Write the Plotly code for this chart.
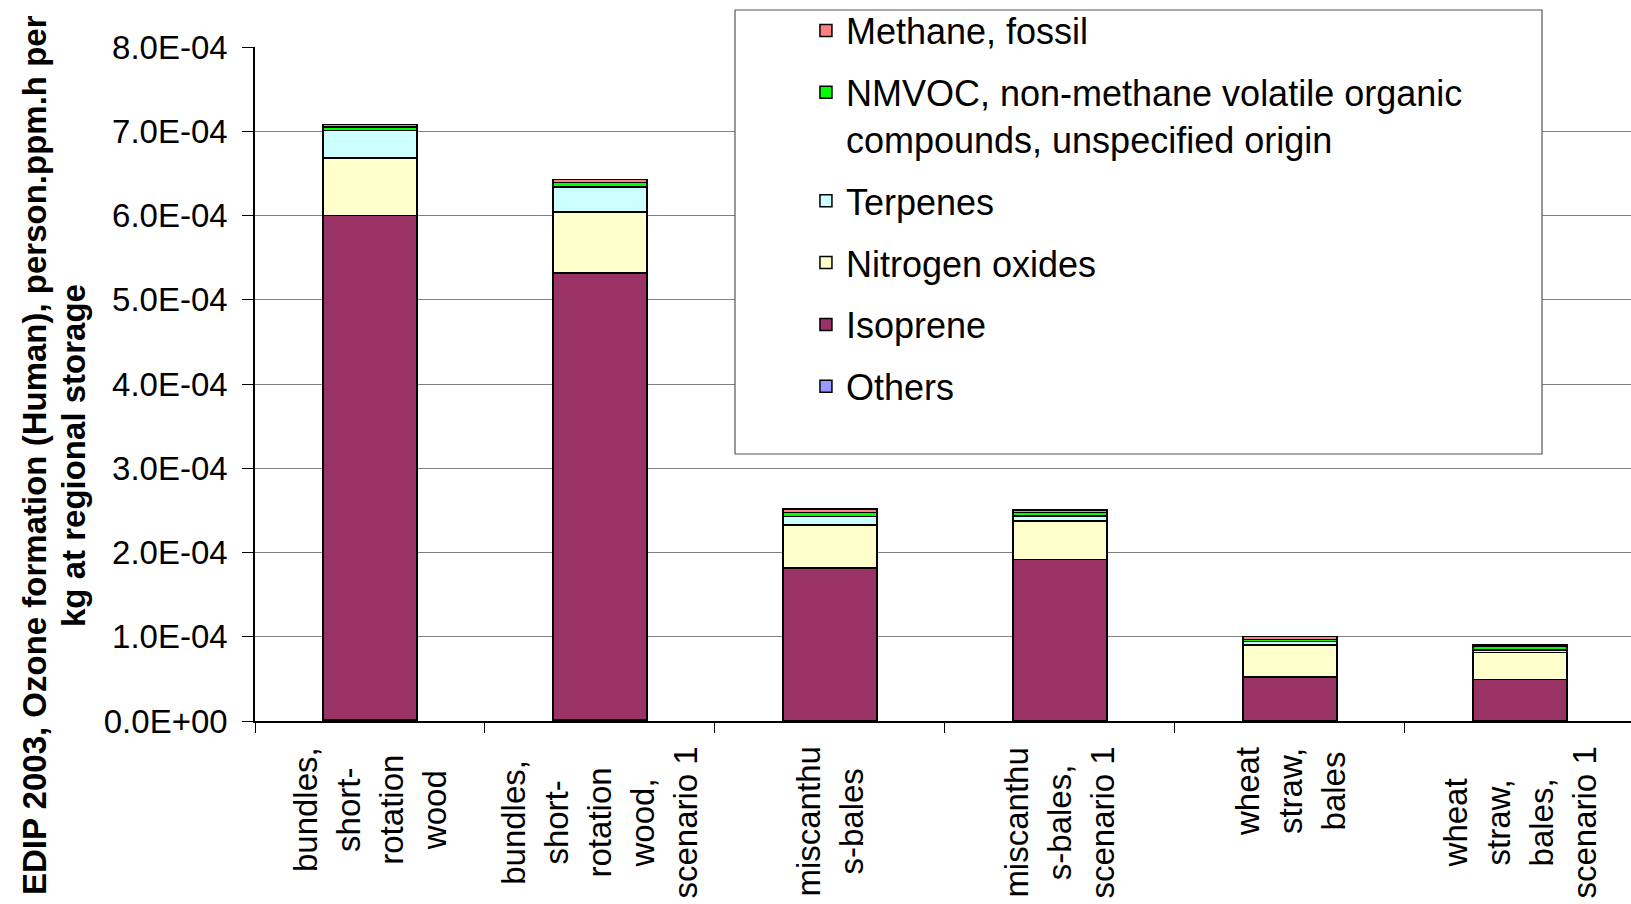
import plotly.graph_objects as go

# ---------------- data ----------------
categories = [
    "bundles, short-rotation wood",
    "bundles, short-rotation wood, scenario 1",
    "miscanthus-bales",
    "miscanthus-bales, scenario 1",
    "wheat straw, bales",
    "wheat straw, bales, scenario 1",
]
category_labels = [
    "bundles,<br>short-<br>rotation<br>wood",
    "bundles,<br>short-<br>rotation<br>wood,<br>scenario 1",
    "miscanthu<br>s-bales",
    "miscanthu<br>s-bales,<br>scenario 1",
    "wheat<br>straw,<br>bales",
    "wheat<br>straw,<br>bales,<br>scenario 1",
]

others = [1.0e-6, 1.0e-6, 0.5e-6, 0.5e-6, 0.3e-6, 0.3e-6]
isoprene = [5.99e-4, 5.31e-4, 1.81e-4, 1.91e-4, 0.52e-4, 0.49e-4]
nitrogen_oxides = [0.68e-4, 0.72e-4, 0.51e-4, 0.46e-4, 0.38e-4, 0.32e-4]
terpenes = [0.33e-4, 0.30e-4, 0.10e-4, 0.06e-4, 0.04e-4, 0.03e-4]
nmvoc = [0.04e-4, 0.05e-4, 0.05e-4, 0.04e-4, 0.025e-4, 0.04e-4]
methane = [0.03e-4, 0.035e-4, 0.04e-4, 0.03e-4, 0.035e-4, 0.02e-4]

y_tick_values = [0, 1e-4, 2e-4, 3e-4, 4e-4, 5e-4, 6e-4, 7e-4, 8e-4]
y_tick_labels = ["0.0E+00", "1.0E-04", "2.0E-04", "3.0E-04", "4.0E-04",
                 "5.0E-04", "6.0E-04", "7.0E-04", "8.0E-04"]

y_title_lines = ["EDIP 2003, Ozone formation (Human), person.ppm.h per",
                 "kg at regional storage"]

# (name, values, colour, legend rank)
series = [
    ("Others", others, "#9999FF", 6),
    ("Isoprene", isoprene, "#993366", 5),
    ("Nitrogen oxides", nitrogen_oxides, "#FFFFCC", 4),
    ("Terpenes", terpenes, "#CCFFFF", 3),
    ("NMVOC, non-methane volatile organic<br>compounds, unspecified origin", nmvoc, "#00FF00", 2),
    ("Methane, fossil", methane, "#FF8080", 1),
]

FONT = "Liberation Sans, Arial, sans-serif"

fig = go.Figure()
for name, vals, color, rank in series:
    fig.add_trace(go.Bar(
        x=categories, y=vals, name=name,
        marker=dict(color=color, line=dict(color="black", width=1.5)),
        width=0.41, legendgroup=name, legendrank=rank,
    ))

W, H = 1631, 904
ML, MR, MT, MB = 255, 0, 47, 183
PW, PH = W - ML - MR, H - MT - MB

fig.update_layout(
    width=W, height=H,
    margin=dict(l=ML, r=MR, t=MT, b=MB, pad=0),
    barmode="stack",
    plot_bgcolor="white", paper_bgcolor="white",
    font=dict(family=FONT, size=30, color="black"),
    showlegend=True,
    legend=dict(
        traceorder="grouped",
        x=0.4004, xanchor="left",
        y=1.069, yanchor="top",
        bgcolor="rgba(0,0,0,0)", borderwidth=0,
        font=dict(family=FONT, size=36, color="black"),
        tracegroupgap=12,
        valign="top",
    ),
    xaxis=dict(
        type="category",
        categoryorder="array", categoryarray=categories,
        range=[-0.5, 5.483],
        showticklabels=False,
        ticks="outside", ticklen=10, tickcolor="black", tickwidth=1,
        tickson="boundaries",
        showline=True, linecolor="black", linewidth=1.5,
        showgrid=False, zeroline=False,
    ),
    yaxis=dict(
        range=[0, 8e-4],
        tickvals=y_tick_values, ticktext=y_tick_labels,
        ticks="outside", ticklen=11, tickcolor="black", tickwidth=1,
        ticklabelstandoff=8,
        showline=True, linecolor="black", linewidth=1.5,
        showgrid=True, gridcolor="#808080", gridwidth=1,
        zeroline=False,
        tickfont=dict(family=FONT, size=33, color="black"),
    ),
)

# legend frame (white box, covers gridlines)
fig.add_shape(
    type="rect", xref="paper", yref="paper",
    x0=(735 - ML) / PW, x1=(1542 - ML) / PW,
    y0=(H - MB - 454) / PH, y1=(H - MB - 10) / PH,
    line=dict(color="#555555", width=1.2), fillcolor="white", layer="above",
)

# category labels (rotated, centered lines)
for cat, lab in zip(categories, category_labels):
    fig.add_annotation(
        x=cat, xref="x", y=-0.035, yref="paper",
        text=lab, textangle=-90, showarrow=False,
        xanchor="center", yanchor="top", align="center",
        font=dict(family=FONT, size=33, color="black"),
    )

# y-axis title, one annotation per line
for line, xpix in zip(y_title_lines, [34, 73]):
    fig.add_annotation(
        x=(xpix - ML) / PW, xref="paper",
        y=(H - MB - 455) / PH, yref="paper",
        text="<b>" + line + "</b>", textangle=-90, showarrow=False,
        xanchor="center", yanchor="middle", align="center",
        font=dict(family=FONT, size=33, color="black"),
    )

fig.write_html("out.html")
